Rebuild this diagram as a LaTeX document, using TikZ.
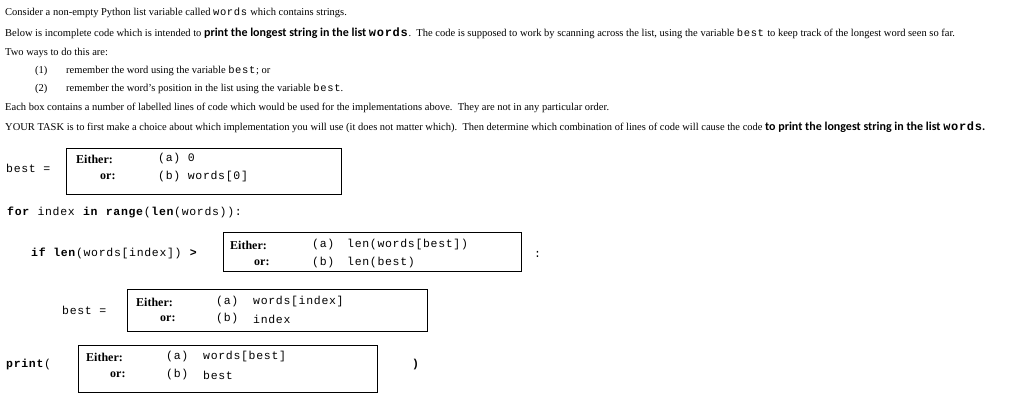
\documentclass[tikz,border=0pt]{standalone}
\usepackage{fontspec}
\setmainfont{Liberation Serif}
\setmonofont[LetterSpace=6]{Liberation Mono}
\newfontfamily\calib{Carlito}
\begin{document}
\begin{tikzpicture}[x=1pt,y=-1pt,
  t/.style={anchor=west,inner sep=0pt,font=\fontsize{10.5}{12}\selectfont},
  c/.style={anchor=west,inner sep=0pt,font=\fontsize{11.5}{12}\ttfamily},
  lab/.style={anchor=west,inner sep=0pt,font=\fontsize{12}{13}\selectfont\bfseries},
  box/.style={draw,line width=0.7pt}]
\useasboundingbox (0,0) rectangle (1024,408);
\newcommand\hl[1]{{\calib\bfseries\fontsize{12}{12}\selectfont #1}}
\node[t] (l1) at (5,13) {Consider a non-empty Python list variable called \texttt{words} which contains strings.};
\node[t] (l2) at (5,33) {Below is incomplete code which is intended to \hl{print the longest string in the list \texttt{words}}.\ \ The code is supposed to work by scanning across the list, using the variable \texttt{best} to keep track of the longest word seen so far.};
\node[t] (l3) at (5,53) {Two ways to do this are:};
\node[t] (n1) at (35,71) {(1)};
\node[t] (r1) at (66,71) {remember the word using the variable \texttt{best}; or};
\node[t] (n2) at (35,89) {(2)};
\node[t] (r2) at (66,89) {remember the word's position in the list using the variable \texttt{best}.};
\node[t] (l4) at (5,108) {Each box contains a number of labelled lines of code which would be used for the implementations above.\ \ They are not in any particular order.};
\node[t] (l5) at (5,127) {YOUR TASK is to first make a choice about which implementation you will use (it does not matter which).\ \ Then determine which combination of lines of code will cause the code \hl{to print the longest string in the list \texttt{words}.}};
% box 1
\node[c] (b1l) at (6,168) {best =};
\draw[box] (66,148) rectangle (341,194);
\node[lab] (e1) at (76,159) {Either:};
\node[lab] (o1) at (100,177) {or:};
\node[c] (a1) at (158,159) {(a) 0};
\node[c] (bb1) at (158,177) {(b) words[0]};
\node[c] (for) at (7,212) {\textbf{for} index \textbf{in} \textbf{range}(\textbf{len}(words)):};
% box 2
\node[c] (ifl) at (31,253) {\textbf{if len}(words[index]) \textbf{>}};
\draw[box] (223,232) rectangle (521,271);
\node[lab] (e2) at (230,245) {Either:};
\node[lab] (o2) at (254,263) {or:};
\node[c] (a2) at (312,245) {(a)};
\node[c] (a2t) at (347,245) {len(words[best])};
\node[c] (bb2) at (312,263) {(b)};
\node[c] (bb2t) at (347,263) {len(best)};
\node[c] (colon) at (534,254) {:};
% box 3
\node[c] (b3l) at (62,310) {best =};
\draw[box] (127,289) rectangle (427,331);
\node[lab] (e3) at (136,302) {Either:};
\node[lab] (o3) at (160,319) {or:};
\node[c] (a3) at (216,302) {(a)};
\node[c] (a3t) at (253,302) {words[index]};
\node[c] (bb3) at (216,319) {(b)};
\node[c] (bb3t) at (253,319) {index};
% box 4
\node[c] (pr) at (6,365) {\textbf{print}(};
\draw[box] (78,345) rectangle (377,392);
\node[lab] (e4) at (86,357) {Either:};
\node[lab] (o4) at (110,375) {or:};
\node[c] (a4) at (166,357) {(a)};
\node[c] (a4t) at (203,357) {words[best]};
\node[c] (bb4) at (166,375) {(b)};
\node[c] (bb4t) at (203,375) {best};
\node[c] (rp) at (412,365) {\textbf{)}};
\end{tikzpicture}
\end{document}
